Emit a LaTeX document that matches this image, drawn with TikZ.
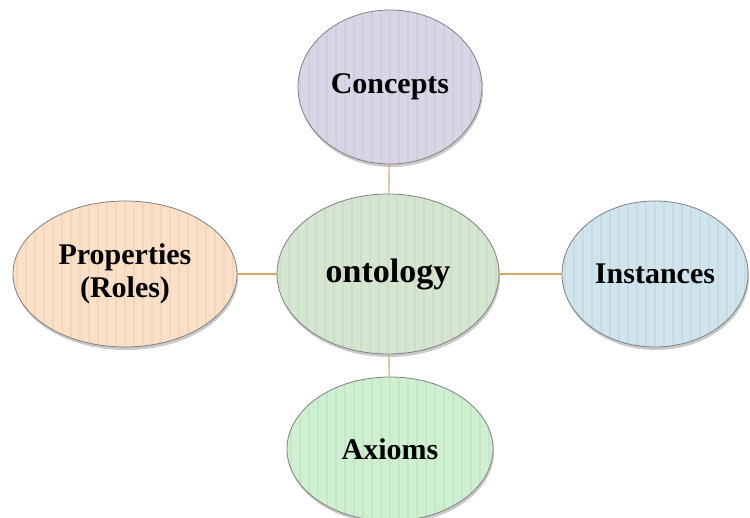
\documentclass[tikz,border=0pt]{standalone}
\usepackage{fontspec}
\setmainfont{Liberation Serif}
\usetikzlibrary{shapes.geometric,shadows}
\definecolor{cConc}{HTML}{DAD5E6}
\definecolor{cOnt}{HTML}{D5E6D0}
\definecolor{cProp}{HTML}{FBDFC6}
\definecolor{cInst}{HTML}{D0E4EE}
\definecolor{cAx}{HTML}{CFEFD1}
\definecolor{link}{HTML}{D6A86C}
\definecolor{rim}{HTML}{808080}
\tikzset{
  x=1pt,y=1pt,
  bubble/.style={ellipse,draw=rim,line width=0.8pt,inner sep=0pt,
    font=\bfseries\fontsize{30}{33}\selectfont,align=center,
    drop shadow={shadow xshift=1pt,shadow yshift=-3pt,opacity=0.35,fill=black!60},
    path picture={\foreach \k in {-30,...,30}{
      \draw[black,opacity=0.035,line width=2pt]
        ([xshift=\k*9pt]path picture bounding box.south) -- ([xshift=\k*9pt]path picture bounding box.north);}}},
  linkline/.style={draw=link,line width=1.2pt}
}
\begin{document}
\begin{tikzpicture}
\useasboundingbox (0,0) rectangle (750,517);
\node[bubble,fill=cOnt,minimum width=222,minimum height=160,font=\bfseries\fontsize{34}{36}\selectfont] (ont) at (388,243) {ontology};
\node[bubble,fill=cConc,minimum width=184,minimum height=154] (conc) at (390,430) {Concepts};
\node[bubble,fill=cProp,minimum width=224,minimum height=146] (prop) at (125,243) {Properties\\(Roles)};
\node[bubble,fill=cInst,minimum width=186,minimum height=146] (inst) at (655,243) {Instances};
\node[bubble,fill=cAx,minimum width=206,minimum height=144] (ax) at (390,68) {Axioms};
\draw[linkline] (conc) -- (ont);
\draw[linkline] (prop) -- (ont);
\draw[linkline] (ont) -- (inst);
\draw[linkline] (ont) -- (ax);
\end{tikzpicture}
\end{document}
